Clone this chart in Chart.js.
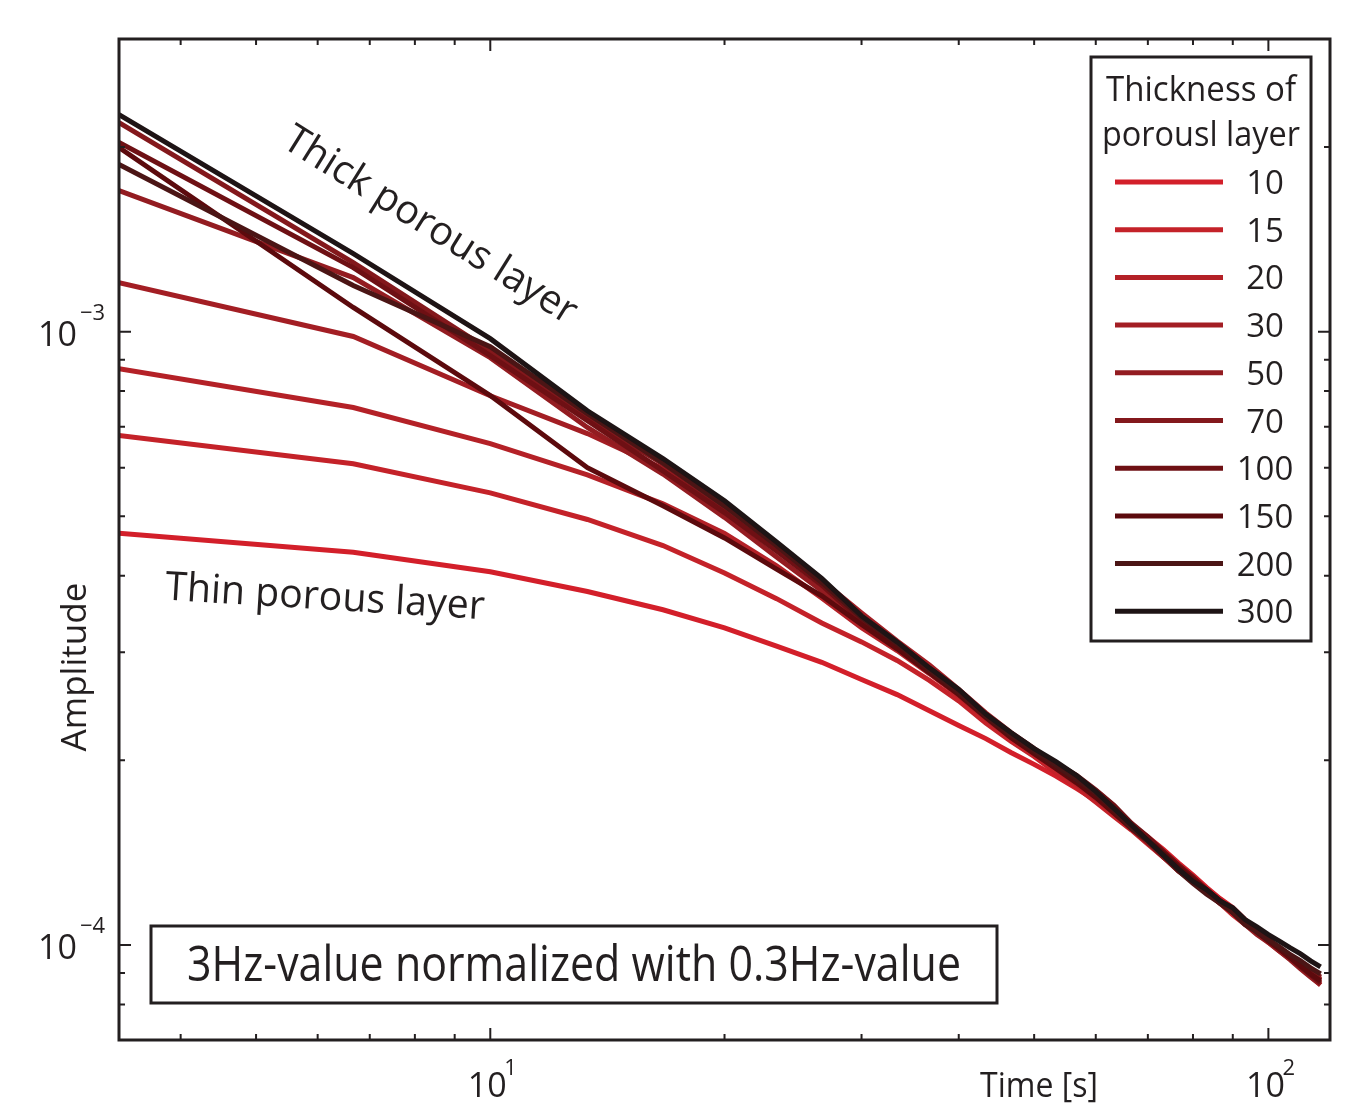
<!DOCTYPE html>
<html>
<head>
<meta charset="utf-8">
<script src="https://cdn.jsdelivr.net/npm/chart.js@4.4.0/dist/chart.umd.min.js"></script>
<style>
  html, body { margin: 0; padding: 0; background: #fff; }
</style>
</head>
<body>
<canvas id="ampChart" width="1353" height="1104"></canvas>
<script>
// time axis [s]
const times = [3.333, 6.667, 10, 13.33, 16.67, 20, 23.33, 26.67, 30, 33.33, 36.67, 40,
  43.33, 46.67, 50, 53.33, 56.67, 60, 63.33, 66.67, 70, 73.33, 76.67, 80, 83.33,
  86.67, 90, 93.33, 96.67, 100, 103.3, 106.7, 110, 113.3, 116.7];

// amplitudes, stored in units of 1e-4
const UNIT = 1e-4;
const amp10 = [4.69, 4.37, 4.06, 3.77, 3.52, 3.29, 3.07, 2.89, 2.71, 2.56, 2.41, 2.28, 2.17, 2.06, 1.97, 1.885, 1.80, 1.72, 1.64, 1.57, 1.50, 1.43, 1.36, 1.30, 1.24, 1.19, 1.15, 1.10, 1.06, 1.02, 0.985, 0.953, 0.921, 0.890, 0.861];
const amp15 = [6.77, 6.09, 5.46, 4.94, 4.48, 4.04, 3.67, 3.35, 3.12, 2.91, 2.70, 2.50, 2.30, 2.15, 2.03, 1.91, 1.81, 1.71, 1.62, 1.54, 1.46, 1.39, 1.32, 1.27, 1.22, 1.17, 1.12, 1.08, 1.05, 1.01, 0.978, 0.949, 0.921, 0.894, 0.870];
const amp20 = [8.70, 7.52, 6.57, 5.84, 5.24, 4.69, 4.15, 3.68, 3.29, 3.02, 2.77, 2.55, 2.34, 2.18, 2.05, 1.94, 1.83, 1.73, 1.64, 1.55, 1.47, 1.39, 1.33, 1.27, 1.22, 1.17, 1.13, 1.09, 1.05, 1.015, 0.985, 0.956, 0.928, 0.904, 0.877];
const amp30 = [12.02, 9.82, 7.86, 6.82, 5.98, 5.20, 4.48, 3.93, 3.48, 3.13, 2.86, 2.61, 2.39, 2.22, 2.09, 1.97, 1.85, 1.75, 1.65, 1.56, 1.49, 1.41, 1.34, 1.28, 1.23, 1.18, 1.14, 1.09, 1.05, 1.02, 0.989, 0.960, 0.932, 0.904, 0.880];
const amp50 = [16.98, 12.25, 9.07, 6.98, 5.86, 4.98, 4.29, 3.78, 3.35, 3.05, 2.79, 2.56, 2.35, 2.18, 2.06, 1.94, 1.84, 1.75, 1.64, 1.55, 1.47, 1.40, 1.33, 1.27, 1.22, 1.17, 1.13, 1.08, 1.04, 1.01, 0.978, 0.946, 0.914, 0.887, 0.861];
const amp70 = [21.92, 12.96, 9.31, 7.21, 6.09, 5.16, 4.46, 3.88, 3.41, 3.09, 2.82, 2.59, 2.36, 2.20, 2.06, 1.95, 1.86, 1.76, 1.65, 1.55, 1.47, 1.39, 1.32, 1.27, 1.22, 1.18, 1.13, 1.09, 1.05, 1.02, 0.989, 0.960, 0.935, 0.911, 0.887];
const amp100 = [20.34, 12.72, 9.14, 7.16, 5.93, 5.07, 4.39, 3.86, 3.38, 3.08, 2.80, 2.58, 2.37, 2.21, 2.08, 1.98, 1.89, 1.79, 1.69, 1.58, 1.50, 1.42, 1.35, 1.29, 1.23, 1.18, 1.14, 1.09, 1.05, 1.02, 0.985, 0.953, 0.921, 0.894, 0.867];
const amp150 = [19.96, 10.95, 7.87, 6.00, 5.20, 4.61, 4.10, 3.71, 3.33, 3.04, 2.78, 2.56, 2.35, 2.18, 2.05, 1.94, 1.84, 1.74, 1.64, 1.55, 1.48, 1.41, 1.34, 1.28, 1.23, 1.18, 1.13, 1.09, 1.05, 1.015, 0.985, 0.953, 0.925, 0.897, 0.874];
const amp200 = [18.73, 11.89, 9.45, 7.35, 6.11, 5.20, 4.48, 3.90, 3.42, 3.10, 2.81, 2.58, 2.36, 2.20, 2.07, 1.96, 1.86, 1.77, 1.66, 1.55, 1.48, 1.40, 1.32, 1.26, 1.21, 1.17, 1.13, 1.08, 1.05, 1.02, 0.993, 0.964, 0.942, 0.918, 0.897];
const amp300 = [22.59, 13.40, 9.74, 7.43, 6.21, 5.30, 4.54, 3.96, 3.44, 3.12, 2.83, 2.61, 2.38, 2.22, 2.09, 1.99, 1.89, 1.78, 1.67, 1.57, 1.48, 1.40, 1.33, 1.27, 1.23, 1.18, 1.15, 1.10, 1.07, 1.04, 1.015, 0.989, 0.967, 0.942, 0.921];

const thicknesses = ['10', '15', '20', '30', '50', '70', '100', '150', '200', '300'];
const seriesValues = [amp10, amp15, amp20, amp30, amp50, amp70, amp100, amp150, amp200, amp300];
const lineColors = ['#d31f2a', '#c42229', '#b42127', '#a31e24', '#931c21', '#83181c',
  '#6e1014', '#5c0a0d', '#4b1515', '#1e1415'];

// axis ticks
const xTicks = [4, 5, 6, 7, 8, 9, 10, 20, 30, 40, 50, 60, 70, 80, 90, 100];
const xMajor = [10, 100];
const xMajorExp = ['1', '2'];
const yTicks = [8e-5, 9e-5, 1e-4, 2e-4, 3e-4, 4e-4, 5e-4, 6e-4, 7e-4, 8e-4, 9e-4, 1e-3, 2e-3];
const yMajor = [1e-4, 1e-3];
const yMajorExp = ['\u22124', '\u22123'];

const INK = '#231f20';
const FONT = '"Open Sans", "DejaVu Sans", sans-serif';

function fitText(ctx, text, x, y, width) {
  const w = ctx.measureText(text).width;
  ctx.save();
  ctx.translate(x, y);
  ctx.scale(width / w, 1);
  ctx.textAlign = 'center';
  ctx.fillText(text, 0, 0);
  ctx.restore();
}

const decorations = {
  id: 'decorations',
  afterDatasetsDraw(chart) {
    const ctx = chart.ctx;
    const area = chart.chartArea;
    const xs = chart.scales.x;
    const ys = chart.scales.y;

    ctx.save();
    ctx.strokeStyle = INK;
    ctx.fillStyle = INK;

    // inward ticks on all four sides
    ctx.lineWidth = 2;
    ctx.beginPath();
    xTicks.forEach(v => {
      const px = xs.getPixelForValue(v);
      const len = xMajor.includes(v) ? 12 : 6;
      ctx.moveTo(px, area.bottom); ctx.lineTo(px, area.bottom - len);
      ctx.moveTo(px, area.top); ctx.lineTo(px, area.top + len);
    });
    yTicks.forEach(v => {
      const py = ys.getPixelForValue(v);
      const len = yMajor.some(m => Math.abs(m - v) < v * 1e-6) ? 12 : 6;
      ctx.moveTo(area.left, py); ctx.lineTo(area.left + len, py);
      ctx.moveTo(area.right, py); ctx.lineTo(area.right - len, py);
    });
    ctx.stroke();

    // axes box
    ctx.lineWidth = 3;
    ctx.strokeRect(area.left, area.top, area.right - area.left, area.bottom - area.top);

    // tick labels: 10 with superscript exponent
    ctx.textBaseline = 'alphabetic';
    xMajor.forEach((v, i) => {
      const px = xs.getPixelForValue(v);
      ctx.font = '34px ' + FONT;
      ctx.textAlign = 'center';
      ctx.fillText('10', px - 3, 1097);
      ctx.font = '22px ' + FONT;
      ctx.textAlign = 'left';
      ctx.fillText(xMajorExp[i], px + 14, 1075);
    });
    yMajor.forEach((v, i) => {
      const py = ys.getPixelForValue(v);
      ctx.font = '34px ' + FONT;
      ctx.textAlign = 'right';
      ctx.fillText('10', 77, py + 14);
      ctx.font = '22px ' + FONT;
      ctx.textAlign = 'left';
      ctx.fillText(yMajorExp[i], 80, py - 12);
    });

    // axis titles
    ctx.font = '34px ' + FONT;
    fitText(ctx, 'Time [s]', 1039, 1097, 118);
    ctx.save();
    ctx.translate(86, 667);
    ctx.rotate(-Math.PI / 2);
    fitText(ctx, 'Amplitude', 0, 0, 169);
    ctx.restore();

    // annotations along the curves
    ctx.font = '40px ' + FONT;
    ctx.textBaseline = 'middle';
    ctx.save();
    ctx.translate(430, 226);
    ctx.rotate(32 * Math.PI / 180);
    fitText(ctx, 'Thick porous layer', 0, 0, 338);
    ctx.restore();
    ctx.save();
    ctx.translate(325, 598);
    ctx.rotate(3.5 * Math.PI / 180);
    fitText(ctx, 'Thin porous layer', 0, 0, 320);
    ctx.restore();

    // normalisation note
    ctx.fillStyle = '#fff';
    ctx.fillRect(151, 926, 846, 77);
    ctx.fillStyle = INK;
    ctx.lineWidth = 3;
    ctx.strokeRect(151, 926, 846, 77);
    ctx.font = '50px ' + FONT;
    ctx.textBaseline = 'alphabetic';
    fitText(ctx, '3Hz-value normalized with 0.3Hz-value', 574, 981, 774);

    // legend built from the datasets
    ctx.fillStyle = '#fff';
    ctx.fillRect(1091, 57, 220, 584);
    ctx.fillStyle = INK;
    ctx.strokeRect(1091, 57, 220, 584);
    ctx.font = '35px ' + FONT;
    fitText(ctx, 'Thickness of', 1201, 101, 190);
    fitText(ctx, 'porousl layer', 1201, 146, 198);
    ctx.font = '33px ' + FONT;
    chart.data.datasets.forEach((ds, i) => {
      const y = 182 + i * 47.7;
      ctx.strokeStyle = ds.borderColor;
      ctx.lineWidth = 5;
      ctx.beginPath();
      ctx.moveTo(1115, y);
      ctx.lineTo(1223, y);
      ctx.stroke();
      ctx.textAlign = 'center';
      ctx.fillText(ds.label, 1265, y + 12);
    });
    ctx.restore();
  }
};

new Chart(document.getElementById('ampChart'), {
  type: 'line',
  data: {
    datasets: thicknesses.map((t, i) => ({
      label: t,
      data: times.map((x, j) => ({ x: x, y: seriesValues[i][j] * UNIT })),
      borderColor: lineColors[i],
      borderWidth: 5,
      pointRadius: 0,
      tension: 0,
      fill: false,
      order: thicknesses.length - i,
    })),
  },
  options: {
    responsive: false,
    animation: false,
    devicePixelRatio: 1,
    layout: {
      padding: { left: 119, right: 23, top: 39, bottom: 64 },
    },
    plugins: {
      legend: { display: false },
      tooltip: { enabled: false },
    },
    scales: {
      x: {
        type: 'logarithmic',
        min: 3.333,
        max: 120,
        grid: { display: false, drawTicks: false },
        border: { display: false },
        ticks: { display: false },
        afterFit: (scale) => { scale.height = 0; },
      },
      y: {
        type: 'logarithmic',
        min: 7e-5,
        max: 3e-3,
        grid: { display: false, drawTicks: false },
        border: { display: false },
        ticks: { display: false },
        afterFit: (scale) => { scale.width = 0; },
      },
    },
  },
  plugins: [decorations],
});
</script>
</body>
</html>
